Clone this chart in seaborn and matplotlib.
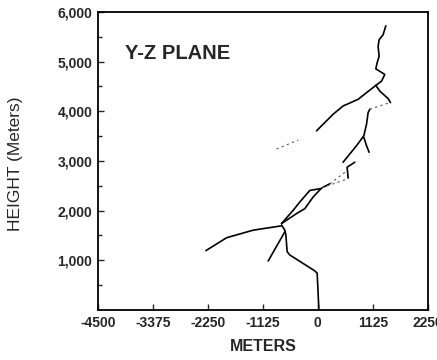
import matplotlib
matplotlib.use("Agg")
import matplotlib.pyplot as plt
from matplotlib.ticker import FixedLocator
import seaborn as sns

# channel segments, (y in meters, z height in meters)
trunk_y = [20, -14, -61, -573, -628, -654, -675, -742]
trunk_z = [30, 740, 786, 1106, 1174, 1506, 1606, 1708]

down_branch_y = [-675, -1016]
down_branch_z = [1574, 986]

left_branch_y = [-742, -1323, -1867, -2290]
left_branch_z = [1694, 1606, 1454, 1194]

lens_a_y = [-742, -505, -368, -164, 41]
lens_a_z = [1740, 2006, 2174, 2406, 2440]

lens_b_y = [-742, -436, -266, -96, 76, 245]
lens_b_z = [1740, 1940, 2040, 2274, 2454, 2540]

zigzag_y = [757, 599, 620]
zigzag_z = [2974, 2874, 2654]

middle_y = [517, 791, 941, 996, 1029, 1063]
middle_z = [2974, 3306, 3506, 3740, 3974, 4040]

spur_y = [941, 996, 1049]
spur_z = [3474, 3306, 3174]

right_branch_y = [1186, 1268, 1438, 1487]
right_branch_z = [4520, 4406, 4254, 4174]

top_y = [1391, 1335, 1254, 1233, 1254, 1213, 1186, 1370, 1303, 1186]
top_z = [5720, 5540, 5440, 5306, 5106, 4974, 4854, 4740, 4606, 4520]

upper_left_y = [1186, 996, 824, 517, 313, -27]
upper_left_z = [4520, 4374, 4240, 4106, 3940, 3606]

# faint dotted connections
dot_a_y = [245, 593]
dot_a_z = [2540, 2800]
dot_b_y = [82, 614]
dot_b_z = [2460, 2640]
dot_c_y = [1063, 1472]
dot_c_z = [4040, 4174]
dot_d_y = [-845, -400]
dot_d_z = [3240, 3420]

solid = [(trunk_y, trunk_z), (down_branch_y, down_branch_z), (left_branch_y, left_branch_z),
         (lens_a_y, lens_a_z), (lens_b_y, lens_b_z), (zigzag_y, zigzag_z),
         (middle_y, middle_z), (spur_y, spur_z), (right_branch_y, right_branch_z),
         (top_y, top_z), (upper_left_y, upper_left_z)]
dotted = [(dot_a_y, dot_a_z), (dot_b_y, dot_b_z), (dot_c_y, dot_c_z), (dot_d_y, dot_d_z)]

x_ticks = [-4500, -3375, -2250, -1125, 0, 1125, 2250]
y_ticks = [1000, 2000, 3000, 4000, 5000, 6000]
y_labels = ["1,000", "2,000", "3,000", "4,000", "5,000", "6,000"]
y_minor = [500, 1500, 2500, 3500, 4500, 5500]

sns.set_style("ticks")
plt.rcParams['font.family'] = ['Liberation Sans', 'DejaVu Sans']

fig = plt.figure(figsize=(4.37, 3.6), dpi=100)
ax = fig.add_axes([0.224, 0.139, 0.755, 0.828])

for ys, zs in solid:
    sns.lineplot(x=ys, y=zs, sort=False, estimator=None, color="black", lw=1.2, ax=ax)
for ys, zs in dotted:
    sns.lineplot(x=ys, y=zs, sort=False, estimator=None, color="#555555", lw=0.8,
                 linestyle=(0, (2, 3)), ax=ax)

ax.set_xlim(-4500, 2250)
ax.set_ylim(0, 6000)
ax.set_xticks(x_ticks)
ax.set_xticklabels([str(t) for t in x_ticks])
ax.set_yticks(y_ticks)
ax.set_yticklabels(y_labels)
ax.yaxis.set_minor_locator(FixedLocator(y_minor))
ax.tick_params(direction="in", length=4, width=1, labelsize=10)
ax.tick_params(axis="x", pad=4)
ax.tick_params(axis="y", pad=4)
ax.tick_params(axis="y", which="minor", direction="in", length=3, width=1)
for lab in ax.get_xticklabels() + ax.get_yticklabels():
    lab.set_fontweight("bold")
for s in ax.spines.values():
    s.set_linewidth(1.3)
    s.set_color("black")

ax.set_xlabel("METERS", fontsize=11.5, fontweight="bold", labelpad=7)
ax.set_ylabel("HEIGHT (Meters)", fontsize=12.5)
ax.yaxis.set_label_coords(-0.227, 0.49)
ax.text(0.082, 0.862, "Y-Z PLANE", transform=ax.transAxes, fontsize=14.5,
        fontweight="bold", va="center")

fig.savefig("out.png", dpi=100)
